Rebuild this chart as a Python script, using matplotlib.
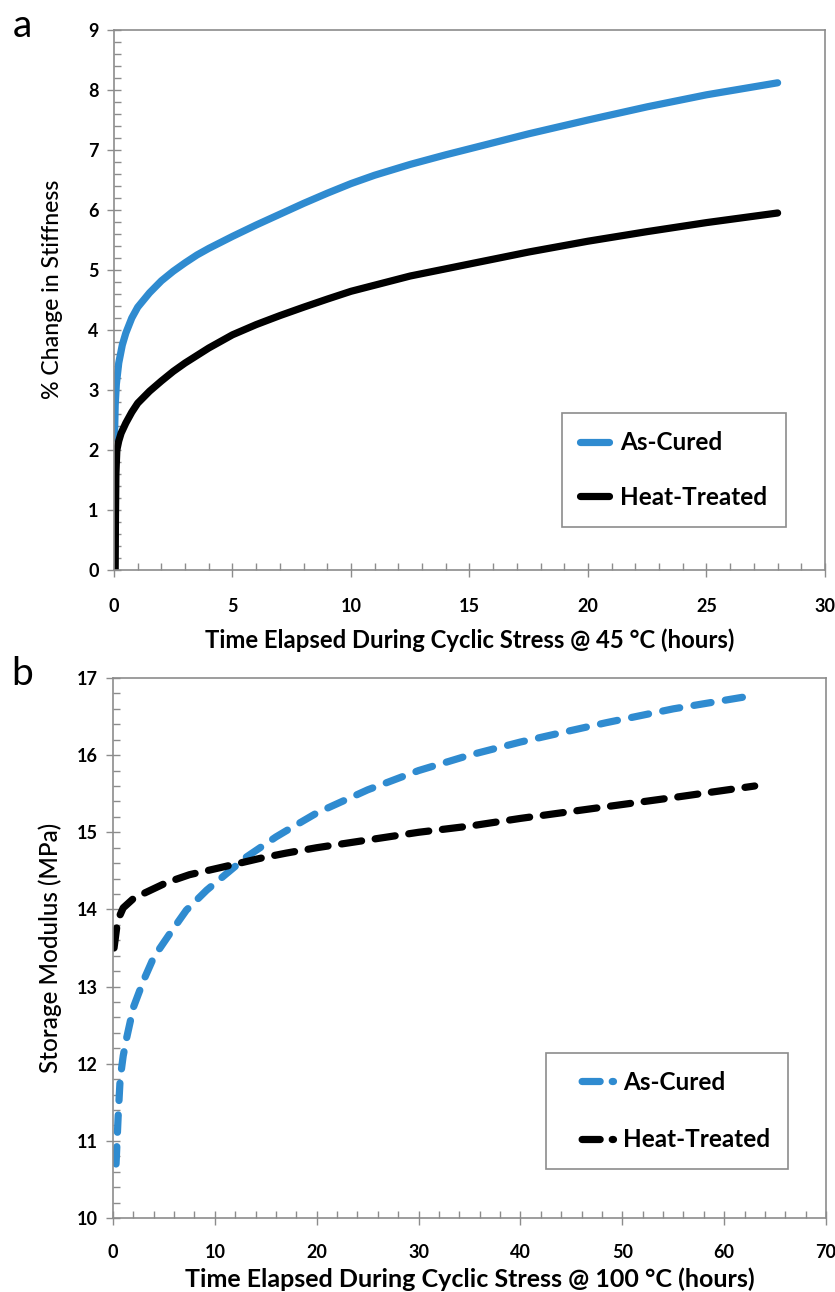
import matplotlib
matplotlib.use("Agg")
import matplotlib.pyplot as plt
from matplotlib.ticker import MultipleLocator
from matplotlib.lines import Line2D

plt.rcParams['font.family'] = ['Lato', 'DejaVu Sans']

# ---- Panel a data: % change in stiffness vs time (45 C) ----
a_cured_t = [0.02, 0.05, 0.1, 0.2, 0.35, 0.5, 0.75, 1.0, 1.5, 2.0, 2.5, 3.0, 3.5, 4.0, 4.5,
             5.0, 6.0, 7.0, 8.0, 9.0, 10, 11, 12.5, 14, 15, 17.5, 20, 22.5, 25, 28]
a_cured_y = [2.2, 2.75, 3.1, 3.45, 3.75, 3.95, 4.2, 4.38, 4.62, 4.82, 4.98, 5.12, 5.25, 5.36,
             5.46, 5.56, 5.75, 5.93, 6.11, 6.28, 6.44, 6.58, 6.76, 6.92, 7.02, 7.27, 7.5,
             7.72, 7.92, 8.12]
a_heat_t = [0.05, 0.06, 0.08, 0.12, 0.2, 0.3, 0.5, 0.75, 1.0, 1.5, 2.0, 2.5, 3.0, 4.0, 5.0,
            6.0, 7.0, 8.0, 9.0, 10, 12.5, 15, 17.5, 20, 22.5, 25, 28]
a_heat_y = [0.0, 0.8, 1.6, 2.0, 2.15, 2.28, 2.45, 2.63, 2.78, 2.98, 3.15, 3.31, 3.45, 3.7,
            3.92, 4.09, 4.24, 4.38, 4.515, 4.645, 4.9, 5.1, 5.3, 5.48, 5.64, 5.79, 5.95]

# ---- Panel b data: storage modulus vs time (100 C) ----
b_cured_t = [0.3, 0.5, 0.7, 1.0, 1.35, 2.0, 3.0, 4.0, 5.6, 7.2, 9.2, 11.2, 13.1, 16, 17.4,
             20, 25, 30, 35, 40, 45, 48.4, 55, 61.8]
b_cured_y = [10.7, 11.3, 11.8, 12.1, 12.34, 12.73, 13.08, 13.38, 13.69, 13.99, 14.25, 14.47,
             14.68, 14.94, 15.05, 15.25, 15.55, 15.8, 16.0, 16.17, 16.32, 16.42, 16.6, 16.75]
b_heat_t = [0.1, 0.2, 0.4, 0.7, 1.0, 2.0, 2.9, 5.3, 7.5, 10.8, 14.7, 17, 20, 25, 30, 35, 40,
            45, 50, 55, 63]
b_heat_y = [13.5, 13.6, 13.8, 13.93, 14.02, 14.14, 14.2, 14.35, 14.45, 14.55, 14.67, 14.73,
            14.8, 14.9, 15.0, 15.08, 15.18, 15.27, 15.36, 15.45, 15.6]

labels = ["As-Cured", "Heat-Treated"]
BLUE = "#2f8bd0"
BLACK = "#000000"
GRAY = "#8c8c8c"

W, H = 835, 1292
fig = plt.figure(figsize=(W / 100, H / 100), dpi=100)


def ax_rect(l, r, t, b):
    return [l / W, 1 - b / H, (r - l) / W, (b - t) / H]


def style_axes(ax, xmaj, xmin, ymaj, ymin, xpad):
    for s in ax.spines.values():
        s.set_color(GRAY)
        s.set_linewidth(1.2)
    ax.xaxis.set_major_locator(MultipleLocator(xmaj))
    ax.xaxis.set_minor_locator(MultipleLocator(xmin))
    ax.yaxis.set_major_locator(MultipleLocator(ymaj))
    ax.yaxis.set_minor_locator(MultipleLocator(ymin))
    ax.tick_params(which='major', direction='inout', length=10, width=1.0, color=GRAY,
                   labelsize=13)
    ax.tick_params(axis='y', which='major', pad=6)
    ax.tick_params(axis='x', which='major', pad=xpad)
    ax.tick_params(which='minor', direction='in', length=5, width=1.0, color=GRAY)
    ax.tick_params(top=False, right=False, which='both')
    for lab in ax.get_xticklabels() + ax.get_yticklabels():
        lab.set_fontweight('bold')


LW = 5.2
LEG = dict(frameon=True, fancybox=False, edgecolor=GRAY,
           prop={'weight': 'bold', 'size': 17.5},
           borderpad=0.75, borderaxespad=0, framealpha=1)

# ---------------- Panel a ----------------
axa = fig.add_axes(ax_rect(114, 825, 30, 570))
axa.plot(a_cured_t, a_cured_y, color=BLUE, lw=LW, solid_capstyle='round',
         solid_joinstyle='round', label=labels[0])
axa.plot(a_heat_t, a_heat_y, color=BLACK, lw=LW, solid_capstyle='round',
         solid_joinstyle='round', label=labels[1])
axa.set_xlim(0, 30)
axa.set_ylim(0, 9)
style_axes(axa, 5, 1, 1, 0.2, xpad=15)
axa.set_xlabel("Time Elapsed During Cyclic Stress @ 45 \u00b0C (hours)", fontsize=17.2,
               fontweight='bold', labelpad=10)
axa.set_ylabel("% Change in Stiffness", fontsize=16.6, fontweight='medium')
axa.yaxis.set_label_coords(-0.072, 0.52)
lega = axa.legend(loc='upper left', bbox_to_anchor=(0.630, 0.291), handlelength=1.2,
                  handletextpad=0.45, labelspacing=1.3, **LEG)
lega.get_frame().set_linewidth(1.2)
axa.text(-0.143, 1.008, "a", transform=axa.transAxes, fontsize=28, ha='left', va='center')

# ---------------- Panel b ----------------
axb = fig.add_axes(ax_rect(113, 826, 678, 1218))
axb.plot(b_cured_t, b_cured_y, color=BLUE, lw=LW, dash_capstyle='round',
         dash_joinstyle='round', dashes=(2.4, 2.0), label=labels[0])
axb.plot(b_heat_t, b_heat_y, color=BLACK, lw=LW, dash_capstyle='round',
         dash_joinstyle='round', dashes=(2.8, 1.9), label=labels[1])
axb.set_xlim(0, 70)
axb.set_ylim(10, 17)
style_axes(axb, 10, 2, 1, 0.2, xpad=14)
axb.set_xlabel("Time Elapsed During Cyclic Stress @ 100 \u00b0C (hours)", fontsize=18,
               fontweight='bold', labelpad=4)
axb.set_ylabel("Storage Modulus (MPa)", fontsize=17.5, fontweight='medium')
axb.yaxis.set_label_coords(-0.072, 0.5)
leg_style = (4.47, (2.5, 1.67, 0.3, 2.44))
hb = [Line2D([], [], color=BLUE, lw=LW, dash_capstyle='round', linestyle=leg_style),
      Line2D([], [], color=BLACK, lw=LW, dash_capstyle='round', linestyle=leg_style)]
legb = axb.legend(hb, labels, loc='upper left', bbox_to_anchor=(0.607, 0.306),
                  handlelength=2.03, handletextpad=0.4, labelspacing=1.4, **LEG)
legb.get_frame().set_linewidth(1.2)
axb.text(-0.143, 1.008, "b", transform=axb.transAxes, fontsize=28, ha='left', va='center')

fig.savefig("out.png", dpi=100)
